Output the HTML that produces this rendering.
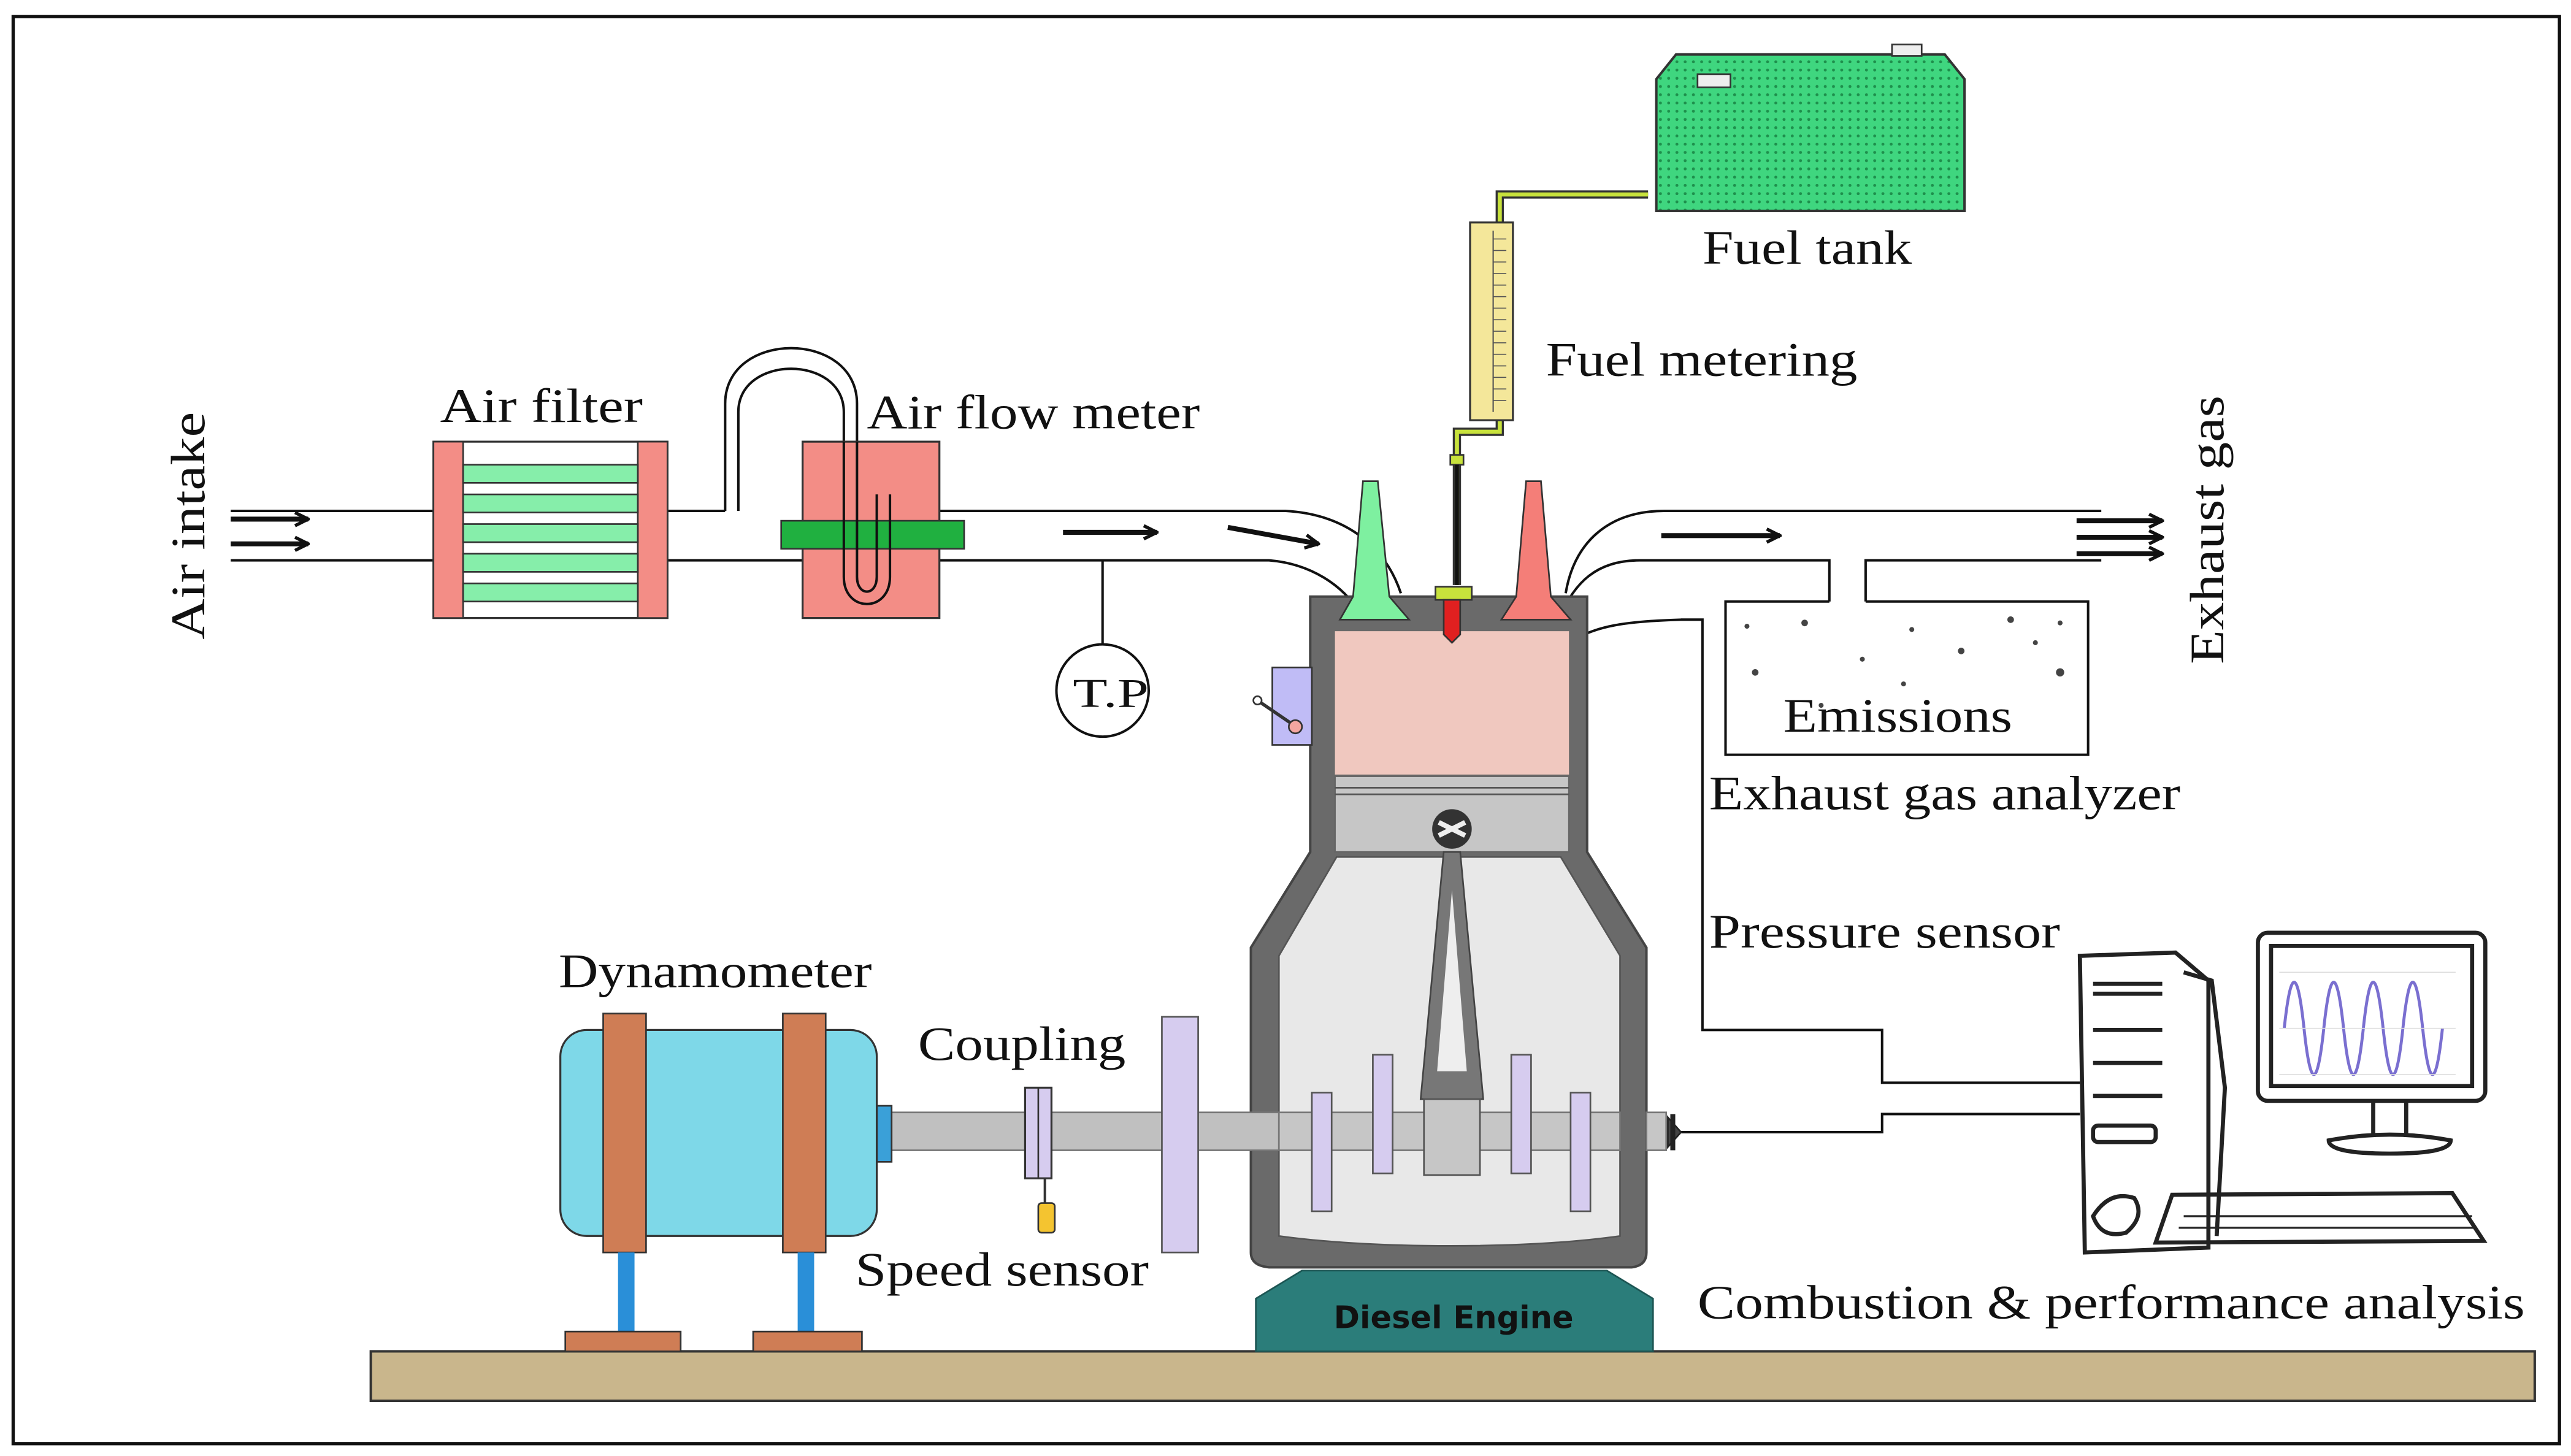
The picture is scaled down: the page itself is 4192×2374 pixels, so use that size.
<!DOCTYPE html>
<html><head><meta charset="utf-8"><style>
html,body{margin:0;padding:0;background:#fff}
svg{display:block}
text{font-family:"Liberation Serif",serif;fill:#111}
</style></head><body>
<svg width="4192" height="2374" viewBox="0 0 1560 883.5" preserveAspectRatio="none" xmlns="http://www.w3.org/2000/svg">
<defs>
<pattern id="dots" width="5" height="5" patternUnits="userSpaceOnUse"><rect width="5" height="5" fill="#3fd67f"/><circle cx="2.5" cy="2.5" r="0.9" fill="#1e8f4c"/></pattern>
<marker id="ah" markerWidth="10" markerHeight="10" refX="9" refY="5" orient="auto" markerUnits="userSpaceOnUse"><path d="M1,1 L9,5 L1,9" fill="none" stroke="#111" stroke-width="2"/></marker>
</defs>
<rect x="0" y="0" width="1560" height="883.5" fill="#fff"/>
<rect x="8" y="10" width="1545" height="866" fill="none" stroke="#111" stroke-width="2"/>

<rect x="225" y="820" width="1313" height="30" fill="#c9b68c" stroke="#333" stroke-width="1.5"/>

<g fill="none" stroke="#111" stroke-width="1.5">
<line x1="140" y1="310" x2="263" y2="310"/><line x1="140" y1="340" x2="263" y2="340"/>
<line x1="405" y1="310" x2="440" y2="310"/><line x1="405" y1="340" x2="487" y2="340"/>
<path d="M570,310 L780,310 C815,312 840,330 850,360"/>
<path d="M570,340 L770,340 C795,342 815,355 825,372"/>
<path d="M440,310 L440,245 C440,200 520,200 520,245 L520,268"/>
<path d="M448,310 L448,250 C448,215 512,215 512,250 L512,268"/>
<path d="M950,360 C955,330 975,310 1010,310 L1275,310"/>
<path d="M945,378 C955,352 970,340 995,340 L1110,340 L1110,365"/>
<path d="M1132,365 L1132,340 L1275,340"/>
<path d="M1110,365 L1047,365 L1047,458 L1267,458 L1267,365 L1132,365"/>
<line x1="669" y1="340" x2="669" y2="391"/>
<path d="M955,388 C970,380 985,377 1020,376 L1033,376 L1033,625 L1142,625 L1142,657 L1262,657"/>
<path d="M1015,687 L1142,687 L1142,676 L1262,676"/>
</g>
<circle cx="669" cy="419" r="28" fill="#fff" stroke="#111" stroke-width="1.5"/>
<text x="651" y="429" font-size="25" textLength="46" lengthAdjust="spacingAndGlyphs">T.P</text>

<g stroke="#111" stroke-width="3" fill="none">
<line x1="140" y1="315" x2="187" y2="315" marker-end="url(#ah)"/>
<line x1="140" y1="330" x2="187" y2="330" marker-end="url(#ah)"/>
<line x1="645" y1="323" x2="702" y2="323" marker-end="url(#ah)"/>
<line x1="745" y1="320" x2="800" y2="330" marker-end="url(#ah)"/>
<line x1="1008" y1="325" x2="1080" y2="325" marker-end="url(#ah)"/>
<line x1="1260" y1="316" x2="1312" y2="316" marker-end="url(#ah)"/>
<line x1="1260" y1="326" x2="1312" y2="326" marker-end="url(#ah)"/>
<line x1="1260" y1="336" x2="1312" y2="336" marker-end="url(#ah)"/>
</g>

<rect x="263" y="268" width="142" height="107" fill="#fff" stroke="#333" stroke-width="1.2"/>
<rect x="263" y="268" width="18" height="107" fill="#f38d86" stroke="#333" stroke-width="1"/>
<rect x="387" y="268" width="18" height="107" fill="#f38d86" stroke="#333" stroke-width="1"/>
<g fill="#86eeaa" stroke="#333" stroke-width="1">
<rect x="281" y="282" width="106" height="11"/><rect x="281" y="300" width="106" height="11"/>
<rect x="281" y="318" width="106" height="11"/><rect x="281" y="336" width="106" height="11"/>
<rect x="281" y="354" width="106" height="11"/>
</g>
<rect x="487" y="268" width="83" height="107" fill="#f38d86" stroke="#333" stroke-width="1.2"/>
<rect x="474" y="316" width="111" height="17" fill="#20b040" stroke="#333" stroke-width="1"/>
<path d="M512,268 L512,350 C512,372 540,372 540,350 L540,300" fill="none" stroke="#111" stroke-width="1.5"/>
<path d="M520,268 L520,350 C520,362 532,362 532,350 L532,300" fill="none" stroke="#111" stroke-width="1.5"/>

<g fill="#444">
<circle cx="1095" cy="378" r="2"/><circle cx="1160" cy="382" r="1.5"/><circle cx="1220" cy="376" r="2"/>
<circle cx="1065" cy="408" r="2"/><circle cx="1130" cy="400" r="1.5"/><circle cx="1190" cy="395" r="2"/>
<circle cx="1250" cy="408" r="2.5"/><circle cx="1105" cy="428" r="1.5"/><circle cx="1235" cy="390" r="1.5"/>
<circle cx="1155" cy="415" r="1.5"/><circle cx="1060" cy="380" r="1.5"/><circle cx="1250" cy="378" r="1.5"/>
</g>
<text x="1082" y="444" font-size="29" textLength="139" lengthAdjust="spacingAndGlyphs">Emissions</text>

<path d="M1005,48 L1017,33 L1180,33 L1192,48 L1192,128 L1005,128 Z" fill="url(#dots)" stroke="#333" stroke-width="1.5"/>
<rect x="1030" y="45" width="20" height="8" fill="#eee" stroke="#333" stroke-width="1"/>
<rect x="1148" y="27" width="18" height="7" fill="#eee" stroke="#333" stroke-width="1"/>
<path d="M1000,118 L910,118 L910,262 L884,262 L884,355" fill="none" stroke="#333" stroke-width="5"/>
<path d="M1000,118 L910,118 L910,262 L884,262 L884,355" fill="none" stroke="#c8e23c" stroke-width="2.5"/>
<rect x="892" y="135" width="26" height="120" fill="#f4e79a" stroke="#333" stroke-width="1.2"/>
<g stroke="#555" stroke-width="0.8"><line x1="906" y1="140" x2="906" y2="250"/></g>
<g stroke="#555" stroke-width="0.6">
<line x1="906" y1="145" x2="914" y2="145"/><line x1="906" y1="152" x2="914" y2="152"/><line x1="906" y1="159" x2="914" y2="159"/><line x1="906" y1="166" x2="914" y2="166"/><line x1="906" y1="173" x2="914" y2="173"/><line x1="906" y1="180" x2="914" y2="180"/><line x1="906" y1="187" x2="914" y2="187"/><line x1="906" y1="194" x2="914" y2="194"/><line x1="906" y1="201" x2="914" y2="201"/><line x1="906" y1="208" x2="914" y2="208"/><line x1="906" y1="215" x2="914" y2="215"/><line x1="906" y1="222" x2="914" y2="222"/><line x1="906" y1="229" x2="914" y2="229"/><line x1="906" y1="236" x2="914" y2="236"/><line x1="906" y1="243" x2="914" y2="243"/>
</g>
<rect x="880" y="276" width="8" height="6" fill="#c8e23c" stroke="#333"/>
<line x1="884" y1="282" x2="884" y2="355" stroke="#111" stroke-width="2.5"/>

<path d="M795,362 L963,362 L963,517 L999,575 L999,760 Q999,768 990,769 L770,769 Q759,768 759,760 L759,575 L795,517 Z" fill="#6a6a6a" stroke="#444" stroke-width="1.5"/>
<path d="M811,520 L947,520 L983,580 L983,750 Q940,756 880,756 Q820,756 776,750 L776,580 Z" fill="#e8e8e8" stroke="#555" stroke-width="1"/>
<rect x="810" y="383" width="142" height="87" fill="#f0c8bf"/>
<rect x="810" y="471" width="142" height="46" fill="#c6c6c6" stroke="#666" stroke-width="1"/>
<line x1="810" y1="478" x2="952" y2="478" stroke="#555" stroke-width="1"/>
<line x1="810" y1="482" x2="952" y2="482" stroke="#555" stroke-width="1"/>
<circle cx="881" cy="503" r="12" fill="#333"/>
<path d="M873,499 L889,507 M889,499 L873,507" stroke="#eee" stroke-width="3"/>
<path d="M876,517 L886,517 L900,667 L862,667 Z" fill="#777" stroke="#444" stroke-width="1"/>
<path d="M881,540 L890,650 L872,650 Z" fill="#eee"/>
<rect x="540" y="675" width="236" height="23" fill="#c0c0c0" stroke="#777" stroke-width="1"/>
<rect x="776" y="675" width="207" height="23" fill="#c6c6c6" stroke="#777" stroke-width="1"/>
<rect x="999" y="675" width="12" height="23" fill="#c6c6c6" stroke="#777" stroke-width="1"/>
<rect x="864" y="667" width="34" height="46" fill="#c6c6c6" stroke="#555" stroke-width="1"/>
<g fill="#d6ccef" stroke="#555" stroke-width="1">
<rect x="796" y="663" width="12" height="72"/><rect x="833" y="640" width="12" height="72"/>
<rect x="917" y="640" width="12" height="72"/><rect x="953" y="663" width="12" height="72"/>
</g>
<path d="M1012,678 L1020,687 L1012,696 Z" fill="#444" stroke="#222"/>
<line x1="1015" y1="676" x2="1015" y2="698" stroke="#222" stroke-width="3"/>
<path d="M827,292 L836,292 L843,362 L855,376 L813,376 L821,362 Z" fill="#7ef0a0" stroke="#333" stroke-width="1"/>
<path d="M926,292 L935,292 L941,362 L953,376 L911,376 L920,362 Z" fill="#f47e78" stroke="#333" stroke-width="1"/>
<rect x="871" y="356" width="22" height="8" fill="#c8e23c" stroke="#333" stroke-width="1"/>
<path d="M876,364 L886,364 L886,385 L881,390 L876,385 Z" fill="#e02020" stroke="#333" stroke-width="1"/>
<rect x="772" y="405" width="24" height="47" fill="#c0bcf6" stroke="#333" stroke-width="1"/>
<line x1="763" y1="425" x2="785" y2="440" stroke="#333" stroke-width="2"/>
<circle cx="786" cy="441" r="4" fill="#f4a6a0" stroke="#333"/>
<circle cx="763" cy="425" r="2.5" fill="#fff" stroke="#333"/>
<path d="M790,771 L975,771 L1003,788 L1003,820 L762,820 L762,788 Z" fill="#2b7d7a" stroke="#1c5553" stroke-width="1"/>
<text x="882" y="806" font-size="19" font-weight="bold" text-anchor="middle" style="font-family:'DejaVu Sans','Liberation Sans',sans-serif;fill:#111">Diesel Engine</text>

<rect x="705" y="617" width="22" height="143" fill="#d6ccef" stroke="#555" stroke-width="1"/>
<rect x="622" y="660" width="16" height="55" fill="#d6ccef" stroke="#333" stroke-width="1.2"/>
<line x1="630" y1="660" x2="630" y2="715" stroke="#333"/>
<line x1="634" y1="715" x2="634" y2="730" stroke="#333" stroke-width="1.5"/>
<rect x="630" y="730" width="10" height="18" rx="2" fill="#f4c430" stroke="#333"/>
<rect x="532" y="671" width="9" height="34" fill="#3aa0d8" stroke="#333"/>
<rect x="340" y="625" width="192" height="125" rx="16" fill="#7ed8e8" stroke="#333" stroke-width="1.2"/>
<rect x="366" y="615" width="26" height="145" fill="#cf7d55" stroke="#333" stroke-width="1"/>
<rect x="475" y="615" width="26" height="145" fill="#cf7d55" stroke="#333" stroke-width="1"/>
<rect x="375" y="760" width="10" height="49" fill="#2a8fd8"/>
<rect x="484" y="760" width="10" height="49" fill="#2a8fd8"/>
<rect x="343" y="808" width="70" height="12" fill="#cf7d55" stroke="#333"/>
<rect x="457" y="808" width="66" height="12" fill="#cf7d55" stroke="#333"/>

<g fill="none" stroke="#222" stroke-width="2.5">
<path d="M1262,580 L1320,578 L1340,595 L1340,757 L1265,760 Z" fill="#fff"/>
<path d="M1325,590 L1342,595 L1350,660 L1345,750"/>
<line x1="1270" y1="597" x2="1312" y2="597"/><line x1="1270" y1="603" x2="1312" y2="603"/>
<line x1="1270" y1="625" x2="1312" y2="625"/><line x1="1270" y1="645" x2="1312" y2="645"/><line x1="1270" y1="665" x2="1312" y2="665"/>
<rect x="1270" y="683" width="38" height="10" rx="3"/>
<rect x="1370" y="566" width="138" height="102" rx="6" fill="#fff"/>
<rect x="1378" y="574" width="122" height="85"/>
<path d="M1440,668 L1440,690 M1460,668 L1460,690"/>
<path d="M1413,692 Q1450,685 1487,692 Q1487,700 1450,700 Q1413,700 1413,692 Z"/>
<path d="M1318,725 L1488,724 L1507,753 L1308,754 Z"/>
<path d="M1270,738 Q1280,722 1295,727 Q1302,738 1290,748 Q1275,752 1270,738 Z"/>
</g>
<path d="M1386,616 Q1392,560 1398,616 T1410,616 Q1416,560 1422,616 T1434,616 Q1440,560 1446,616 T1458,616 Q1464,560 1470,616 T1482,616" fill="none" stroke="#7a6fd0" stroke-width="1.8" transform="translate(0,8)"/>
<g stroke="#ddd" stroke-width="0.6"><line x1="1383" y1="590" x2="1490" y2="590"/><line x1="1383" y1="624" x2="1490" y2="624"/><line x1="1383" y1="652" x2="1490" y2="652"/></g>
<g stroke="#222" stroke-width="1.2"><line x1="1325" y1="738" x2="1500" y2="738"/><line x1="1322" y1="745" x2="1502" y2="745"/></g>

<g font-size="29">
<text x="267" y="256" textLength="123" lengthAdjust="spacingAndGlyphs">Air filter</text>
<text x="526" y="260" textLength="202" lengthAdjust="spacingAndGlyphs">Air flow meter</text>
<text x="1033" y="160" textLength="127" lengthAdjust="spacingAndGlyphs">Fuel tank</text>
<text x="938" y="228" textLength="189" lengthAdjust="spacingAndGlyphs">Fuel metering</text>
<text x="1037" y="491" textLength="286" lengthAdjust="spacingAndGlyphs">Exhaust gas analyzer</text>
<text x="1037" y="575" textLength="213" lengthAdjust="spacingAndGlyphs">Pressure sensor</text>
<text x="339" y="599" textLength="190" lengthAdjust="spacingAndGlyphs">Dynamometer</text>
<text x="557" y="643" textLength="126" lengthAdjust="spacingAndGlyphs">Coupling</text>
<text x="519" y="780" textLength="178" lengthAdjust="spacingAndGlyphs">Speed sensor</text>
<text x="1030" y="800" textLength="502" lengthAdjust="spacingAndGlyphs">Combustion &amp; performance analysis</text>
<text transform="translate(124,388) rotate(-90)" textLength="138" lengthAdjust="spacingAndGlyphs">Air intake</text>
<text transform="translate(1349,403) rotate(-90)" textLength="163" lengthAdjust="spacingAndGlyphs">Exhaust gas</text>
</g>
</svg>
</body></html>
